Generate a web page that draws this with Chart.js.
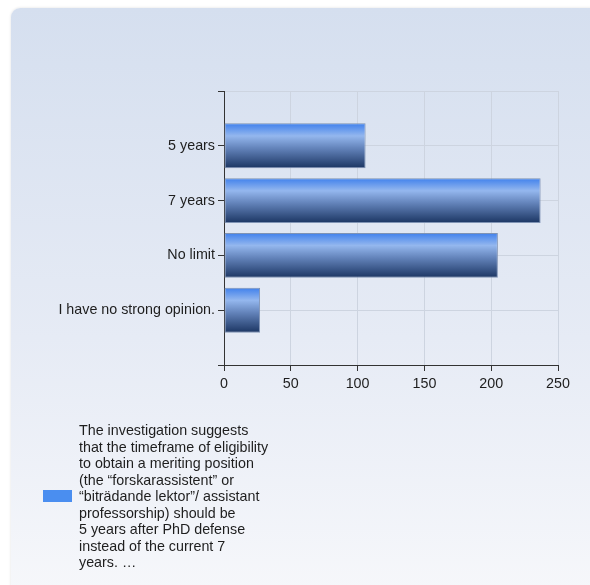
<!DOCTYPE html>
<html>
<head>
<meta charset="utf-8">
<script src="https://cdn.jsdelivr.net/npm/chart.js@4"></script>
<style>
  html, body { margin: 0; padding: 0; background: #fff; }
  body { width: 590px; height: 585px; position: relative; overflow: hidden; }
  #panel {
    position: absolute; left: 11px; top: 8px; width: 600px; height: 600px;
    border-radius: 9px;
    background: linear-gradient(#d5dfef, #e6ebf5 55%, #f7f8fb);
    box-shadow: 0 0 3px rgba(0, 0, 0, 0.12);
  }
  #chart { position: absolute; left: 0; top: 0; }
  #legend {
    position: absolute; left: 43px; top: 422px;
    font: 14.3px "Liberation Sans", Arial, sans-serif; color: #1e1e1e;
  }
  #legend .box {
    position: absolute; left: 0; top: 68px; width: 29px; height: 12px;
    background: #4a8ef0;
  }
  #legend .txt { position: absolute; left: 36px; top: 0; width: 240px; line-height: 16.5px; white-space: nowrap; }
</style>
</head>
<body>
<div id="panel"></div>
<canvas id="chart" width="590" height="585"></canvas>
<div id="legend"><div class="box"></div><div class="txt"></div></div>
<script>
// dane
const kategorie = ['', '5 years', '7 years', 'No limit', 'I have no strong opinion.', ''];
const wartosci = [null, 106, 237, 205, 27, null];
const osX = { min: 0, max: 250, krok: 50 };
const legendaLinie = [
    'The investigation suggests',
    'that the timeframe of eligibility',
    'to obtain a meriting position',
    '(the \u201cforskarassistent\u201d or',
    '\u201cbitr\u00e4dande lektor\u201d/ assistant',
    'professorship) should be',
    '5 years after PhD defense',
    'instead of the current 7',
    'years. \u2026'
];

const czcionka = { family: '"Liberation Sans", Arial, sans-serif', size: 14.3 };

// gradient dla kazdego slupka osobno (srodek slupka z osi y)
function gradientSlupka(ctx) {
    const chart = ctx.chart;
    const y = chart.scales.y;
    if (!chart.chartArea || !y || y.ticks.length < 2) return '#4a8ef0';
    const srodek = y.getPixelForValue(ctx.dataIndex);
    const pol = (y.getPixelForTick(1) - y.getPixelForTick(0)) * 0.82 / 2;
    const g = chart.ctx.createLinearGradient(0, srodek - pol, 0, srodek + pol);
    g.addColorStop(0, '#3f80ec');
    g.addColorStop(0.28, '#94b7ee');
    g.addColorStop(0.55, '#6484bb');
    g.addColorStop(1, '#1b3562');
    return g;
}

new Chart(document.getElementById('chart'), {
    type: 'bar',
    data: {
        labels: kategorie,
        datasets: [{
            label: legendaLinie.join(' '),
            data: wartosci,
            backgroundColor: gradientSlupka,
            borderColor: '#7f93b4',
            borderWidth: 1,
            borderSkipped: false,
            barPercentage: 0.82,
            categoryPercentage: 1
        }]
    },
    options: {
        indexAxis: 'y',
        responsive: false,
        animation: false,
        layout: { padding: { left: 0, top: 91, right: 32, bottom: 190 } },
        plugins: {
            legend: { display: false },
            tooltip: { enabled: false }
        },
        scales: {
            y: {
                type: 'category',
                offset: false,
                afterFit: s => { s.width = 224; },
                grid: { offset: false, color: '#cdd4e0', tickColor: '#333', tickLength: 6 },
                border: { color: '#333' },
                ticks: { color: '#1e1e1e', font: czcionka, padding: 3, autoSkip: false }
            },
            x: {
                min: osX.min,
                max: osX.max,
                afterFit: s => { s.height = 30; },
                grid: { color: '#cdd4e0', tickColor: '#333', tickLength: 6 },
                border: { color: '#333' },
                ticks: { stepSize: osX.krok, color: '#1e1e1e', font: czcionka, padding: 4, maxRotation: 0 }
            }
        }
    }
});

document.querySelector('#legend .txt').innerHTML = legendaLinie.join('<br>');
</script>
</body>
</html>
